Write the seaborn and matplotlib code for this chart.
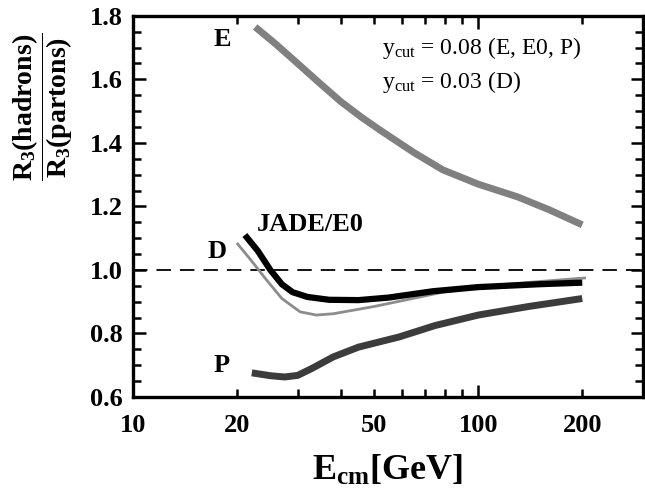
import numpy as np
import pandas as pd
import seaborn as sns
import matplotlib
matplotlib.use("Agg")
import matplotlib.pyplot as plt
from matplotlib.ticker import FixedLocator, MultipleLocator, FuncFormatter

# Curve data (E_cm in GeV, ratio)
e_x = [22.6, 26, 30, 35, 40, 46, 52, 65, 79, 100, 130, 160, 200]
e_y = [1.765, 1.71, 1.65, 1.585, 1.53, 1.48, 1.44, 1.37, 1.315, 1.27, 1.23, 1.19, 1.142]

jade_x = [21.1, 23, 25, 27, 29, 32, 37, 45, 55, 74, 100, 150, 200]
jade_y = [1.11, 1.06, 1.00, 0.955, 0.93, 0.915, 0.906, 0.905, 0.913, 0.933, 0.946, 0.955, 0.96]

d_x = [20, 22, 24.4, 27, 30.5, 34, 38, 50, 79, 120, 205]
d_y = [1.085, 1.03, 0.968, 0.91, 0.868, 0.858, 0.862, 0.885, 0.93, 0.955, 0.975]

p_x = [22.1, 25, 27.5, 30, 33, 38, 45, 59, 75, 100, 140, 200]
p_y = [0.676, 0.667, 0.663, 0.668, 0.69, 0.726, 0.757, 0.789, 0.825, 0.858, 0.885, 0.91]

xmajor_vals = [10, 100]
xminor_vals = [20, 30, 40, 50, 60, 70, 80, 90, 200, 300]
xlabelled = [10, 20, 50, 100, 200]
ytick_vals = [0.6, 0.8, 1.0, 1.2, 1.4, 1.6, 1.8]

sns.set_style("ticks")
plt.rcParams["font.family"] = ["Liberation Serif", "DejaVu Serif"]
plt.rcParams["mathtext.fontset"] = "custom"
plt.rcParams["mathtext.rm"] = "Liberation Serif"
plt.rcParams["mathtext.it"] = "Liberation Serif:italic"
plt.rcParams["mathtext.bf"] = "Liberation Serif:bold"
for key in ["text.color", "axes.labelcolor", "xtick.color", "ytick.color", "axes.edgecolor"]:
    plt.rcParams[key] = "black"

fig = plt.figure(figsize=(6.45, 4.95), dpi=100)
ax = fig.add_axes([0.206, 0.198, 0.791, 0.770])

# dashed reference line
ax.axhline(1.0, color="black", lw=1.3, ls=(0, (8, 5)), zorder=1)

curves = [
    (e_x, e_y, "#808080", 5.0),
    (d_x, d_y, "#8c8c8c", 2.0),
    (jade_x, jade_y, "#000000", 4.5),
    (p_x, p_y, "#3c3c3c", 5.0),
]
for xs, ys, col, lw in curves:
    df = pd.DataFrame({"x": xs, "y": ys})
    sns.lineplot(data=df, x="x", y="y", color=col, lw=lw, ax=ax,
                 solid_capstyle="butt", solid_joinstyle="round", zorder=3)

ax.set_xscale("log")
ax.set_xlim(10, 300)
ax.set_ylim(0.6, 1.8)

fmt = FuncFormatter(lambda v, pos: f"{v:g}" if round(v) in xlabelled else "")
ax.xaxis.set_major_locator(FixedLocator(xmajor_vals))
ax.xaxis.set_minor_locator(FixedLocator(xminor_vals))
ax.xaxis.set_major_formatter(fmt)
ax.xaxis.set_minor_formatter(fmt)
ax.yaxis.set_major_locator(FixedLocator(ytick_vals))
ax.yaxis.set_major_formatter(FuncFormatter(lambda v, pos: f"{v:.1f}"))
ax.yaxis.set_minor_locator(MultipleLocator(0.05))

ax.tick_params(which="both", direction="in", top=True, right=True, width=1.8,
               labelsize=19, color="black", labelcolor="black")
ax.tick_params(axis="x", which="both", pad=12)
ax.tick_params(axis="y", which="both", pad=7)
ax.tick_params(which="major", length=9)
ax.tick_params(which="minor", length=6)
for lab in (ax.get_xticklabels() + ax.get_xticklabels(minor=True)
            + ax.get_yticklabels()):
    lab.set_fontweight("bold")
for sp in ax.spines.values():
    sp.set_linewidth(2.4)
    sp.set_color("black")

ax.set_xlabel(r"$\mathbf{E_{cm}[GeV]}$", fontsize=26, labelpad=12)
ax.set_ylabel(r"$\dfrac{\mathbf{R_3(hadrons)}}{\mathbf{R_3(partons)}}$",
              fontsize=20)
ax.yaxis.set_label_coords(-0.114, 0.76)

# curve labels
ax.text(18.1, 1.724, "E", fontsize=19, fontweight="bold", ha="center", va="center")
ax.text(22.9, 1.142, "JADE/E0", fontsize=19, fontweight="bold", ha="left", va="center")
ax.text(17.5, 1.057, "D", fontsize=19, fontweight="bold", ha="center", va="center")
ax.text(18.1, 0.70, "P", fontsize=19, fontweight="bold", ha="center", va="center")

ax.text(0.488, 0.916, r"$\mathrm{y_{cut}}$ = 0.08 (E, E0, P)", transform=ax.transAxes,
        fontsize=17, ha="left", va="center")
ax.text(0.488, 0.827, r"$\mathrm{y_{cut}}$ = 0.03 (D)", transform=ax.transAxes,
        fontsize=17, ha="left", va="center")

fig.savefig("out.png", dpi=100)
